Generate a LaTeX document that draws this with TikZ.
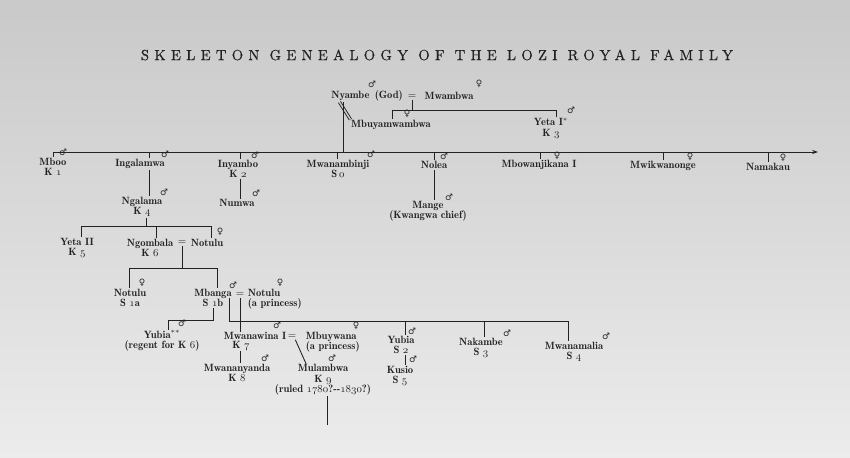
\documentclass[tikz,border=0pt]{standalone}
\usepackage{fontspec}
\newfontfamily\sexfont{DejaVu Sans}
\newfontfamily\titlefont{lmroman10-regular.otf}[LetterSpace=36, FakeBold=0.6]
\newfontfamily\namefamily{lmromandemi10-regular.otf}
\usetikzlibrary{arrows.meta}

\definecolor{paper}{RGB}{201,201,202}
\definecolor{paperlow}{RGB}{236,236,236}
\definecolor{ink}{RGB}{34,34,34}

% old style figures from the math italic font
\newcommand\osf[1]{{\usefont{OML}{cmm}{m}{it}#1}}
\newcommand\msym{{\sexfont ♂}}
\newcommand\fsym{{\sexfont ♀}}
\newcommand\namefont{\namefamily\fontsize{9}{9}\selectfont}

\begin{document}
\begin{tikzpicture}[x=0.03cm, y=-0.03cm,
	person/.style={font=\namefont, text=ink, inner sep=0.5pt, align=center},
	sexsign/.style={font=\sexfont\fontsize{7.5}{7.5}\selectfont, text=ink, inner sep=0pt},
	wed/.style={font=\namefont, text=ink, inner sep=0.5pt},
	kin/.style={draw=ink, line width=0.75pt}]

	% page, photographed paper
	\useasboundingbox (0,0) rectangle (850,458);
	\shade[top color=paper, bottom color=paperlow] (0,0) rectangle (850,458);

	\node[font=\titlefont\fontsize{12.5}{14}\selectfont, text=ink] (title) at (437,55) {SKELETON GENEALOGY OF THE LOZI ROYAL FAMILY};

	% god and his wife
	\node[person] (nyambe) at (367,96) {Nyambe\enspace(God)};
	\node[sexsign] (nyambeS) at (372,84) {\msym};
	\node[wed] (wed0) at (412,97) {$=$};
	\node[person] (mwambwa) at (449,96) {Mwambwa};
	\node[sexsign] (mwambwaS) at (479,84) {\fsym};
	\coordinate (bar0l) at (392,110);
	\coordinate (bar0r) at (556,110);
	\draw[kin] (wed0.south) -- (wed0.south |- bar0l);
	\draw[kin] (bar0l) -- (bar0r);
	\node[person] (mbuya) at (391,125) {Mbuyamwambwa};
	\node[sexsign] (mbuyaS) at (407,114) {\fsym};
	\node[person] (yeta1) at (551,128) {Yeta I$^{\ast}$\\K \osf{3}};
	\node[sexsign] (yeta1S) at (571,110) {\msym};
	\draw[kin] (bar0l) -- (bar0l |- mbuya.north);
	\draw[kin] (bar0r) -- (bar0r |- yeta1.north);
	% nyambe and his daughter
	\draw[kin, double=paper, double distance=1.3pt] ([xshift=2.7mm]nyambe.south west) -- (mbuya.north west);

	% first generation, arrow runs on to the later children
	\coordinate (bar1l) at (53,152);
	\coordinate (bar1r) at (818,152);
	\coordinate (nyambeD) at (343,152);
	\draw[kin, -{Stealth[length=5pt, width=3.5pt]}] (bar1l) -- (bar1r);
	\draw[kin] (nyambe.south -| nyambeD) -- (nyambeD);

	\node[person] (mboo) at (53,167) {Mboo\\K \osf{1}};
	\node[sexsign] (mbooS) at (63,152) {\msym};
	\draw[kin] (bar1l) -- (bar1l |- mboo.north);

	\coordinate (d2) at (149,152);
	\node[person] (ingalamwa) at (140,164) {Ingalamwa};
	\node[sexsign] (ingalamwaS) at (165,154) {\msym};
	\draw[kin] (d2) -- (d2 |- ingalamwa.north);
	\node[person] (ngalama) at (142,207) {Ngalama\\K \osf{4}};
	\node[sexsign] (ngalamaS) at (164,192) {\msym};
	\draw[kin] (ingalamwa.south -| d2) -- (ngalama.north -| d2);

	\coordinate (d3) at (240,152);
	\node[person] (inyambo) at (238,169) {Inyambo\\K \osf{2}};
	\node[sexsign] (inyamboS) at (255,155) {\msym};
	\draw[kin] (d3) -- (d3 |- inyambo.north);
	\node[person] (numwa) at (237,203) {Numwa};
	\node[sexsign] (numwaS) at (256,193) {\msym};
	\draw[kin] (inyambo.south -| d3) -- (numwa.north -| d3);

	\coordinate (d4) at (337,152);
	\node[person] (mwanambinji) at (338,169) {Mwanambinji\\S\,\osf{0}};
	\node[sexsign] (mwanambinjiS) at (371,154) {\msym};
	\draw[kin] (d4) -- (d4 |- mwanambinji.north);

	\coordinate (d5) at (434,152);
	\node[person] (nolea) at (434,165) {Nolea};
	\node[sexsign] (noleaS) at (444,156) {\msym};
	\draw[kin] (d5) -- (d5 |- nolea.north);
	\node[person] (mange) at (428,211) {Mange\\(Kwangwa chief)};
	\node[sexsign] (mangeS) at (449,197) {\msym};
	\draw[kin] (nolea.south -| d5) -- (mange.north -| d5);

	\coordinate (d6) at (540,152);
	\node[person] (mbowanjikana) at (539,165) {Mbowanjikana I};
	\node[sexsign] (mbowanjikanaS) at (557,156) {\fsym};
	\draw[kin] (d6) -- (d6 |- mbowanjikana.north);

	\coordinate (d7) at (663,152);
	\node[person] (mwikwanonge) at (663,166) {Mwikwanonge};
	\node[sexsign] (mwikwanongeS) at (690,157) {\fsym};
	\draw[kin] (d7) -- (d7 |- mwikwanonge.north);

	\coordinate (d8) at (768,152);
	\node[person] (namakau) at (768,167) {Namakau};
	\node[sexsign] (namakauS) at (783,158) {\fsym};
	\draw[kin] (d8) -- (d8 |- namakau.north);

	% children of ngalama
	\coordinate (d9) at (146,226);
	\coordinate (bar2l) at (81,226);
	\coordinate (bar2r) at (211,226);
	\coordinate (d10) at (156,226);
	\draw[kin] (ngalama.south -| d9) -- (d9);
	\draw[kin] (bar2l) -- (bar2r);
	\node[person] (yeta2) at (77,248) {Yeta II\\K \osf{5}};
	\node[person] (ngombala) at (150,248) {Ngombala\\K \osf{6}};
	\node[wed] (wed1) at (182,243) {$=$};
	\node[person] (notulu0) at (207,243) {Notulu};
	\node[sexsign] (notulu0S) at (220,232) {\fsym};
	\draw[kin] (bar2l) -- (bar2l |- yeta2.north);
	\draw[kin] (d10) -- (d10 |- ngombala.north);
	\draw[kin] (bar2r) -- (bar2r |- notulu0.north);

	% children of ngombala and notulu
	\coordinate (bar3l) at (129,268);
	\coordinate (bar3r) at (217,268);
	\draw[kin] (wed1.south) -- (wed1.south |- bar3l);
	\draw[kin] (bar3l) -- (bar3r);
	\node[person] (notulu1) at (130,298) {Notulu\\S \osf{1}\textit{a}};
	\node[sexsign] (notulu1S) at (142,283) {\fsym};
	\node[person] (mbanga) at (213,298) {Mbanga\\S \osf{1}\textit{b}};
	\node[sexsign] (mbangaS) at (233,285) {\msym};
	\node[wed] (wed2) at (240,295) {$=$};
	\node[person, align=left, anchor=west] (notulu2) at (247,299) {Notulu\\(a princess)};
	\node[sexsign] (notulu2S) at (280,283) {\fsym};
	\draw[kin] (bar3l) -- (bar3l |- notulu1.north);
	\draw[kin] (bar3r) -- (bar3r |- mbanga.north);

	% sons of mbanga
	\coordinate (d12) at (213,320);
	\coordinate (d13) at (168,320);
	\node[person] (yubia0) at (162,341) {Yubia$^{\ast\ast}$\\(regent for K \osf{6})};
	\node[sexsign] (yubia0S) at (182,323) {\msym};
	\draw[kin] (mbanga.south -| d12) -- (d12) -- (d13) -- (d13 |- yubia0.north);

	\coordinate (d14) at (229,321);
	\coordinate (d15) at (568,321);
	\draw[kin] (d14 |- wed2.south) -- (d14) -- (d15);

	\node[person] (mwanawina) at (255,336) {Mwanawina I};
	\node[person] (mwanawinaK) at (241,346) {K \osf{7}};
	\node[sexsign] (mwanawinaS) at (277,325) {\msym};
	\draw[kin] (wed2.south) -- (wed2.south |- mwanawina.north);
	\node[wed] (wed3) at (292,337) {$=$};
	\node[person, align=left, anchor=west] (mbuywana) at (305,342) {Mbuywana\\(a princess)};
	\node[sexsign] (mbuywanaS) at (356,326) {\fsym};

	\node[person] (mwananyanda) at (237,373) {Mwananyanda\\K \osf{8}};
	\node[sexsign] (mwananyandaS) at (265,358) {\msym};
	\draw[kin] (mwanawinaK.south -| wed2.south) -- (mwananyanda.north -| wed2.south);

	\coordinate (d16) at (306,362);
	\node[person] (mulambwa) at (323,380) {Mulambwa\\K \osf{9}\\(ruled \osf{1780}?--\osf{1830}?)};
	\node[sexsign] (mulambwaS) at (332,358) {\msym};
	\draw[kin] ([xshift=1mm]wed3.south) -- (d16 |- mulambwa.north);
	\coordinate (cont) at (327,425);
	\draw[kin] (mulambwa.south -| cont) -- (cont);

	\coordinate (d17) at (405,321);
	\node[person] (yubia2) at (401,345) {Yubia\\S \osf{2}};
	\node[sexsign] (yubia2S) at (412,331) {\msym};
	\draw[kin] (d17) -- (d17 |- yubia2.north);
	\node[person] (kusio) at (400,376) {Kusio\\S \osf{5}};
	\node[sexsign] (kusioS) at (413,359) {\msym};
	\draw[kin] (yubia2.south -| d17) -- (kusio.north -| d17);

	\coordinate (d18) at (484,321);
	\node[person] (nakambe) at (481,348) {Nakambe\\S \osf{3}};
	\node[sexsign] (nakambeS) at (507,333) {\msym};
	\draw[kin] (d18) -- (d18 |- nakambe.north);

	\node[person] (mwanamalia) at (574,352) {Mwanamalia\\S \osf{4}};
	\node[sexsign] (mwanamaliaS) at (606,336) {\msym};
	\draw[kin] (d15) -- (d15 |- mwanamalia.north);

\end{tikzpicture}
\end{document}
